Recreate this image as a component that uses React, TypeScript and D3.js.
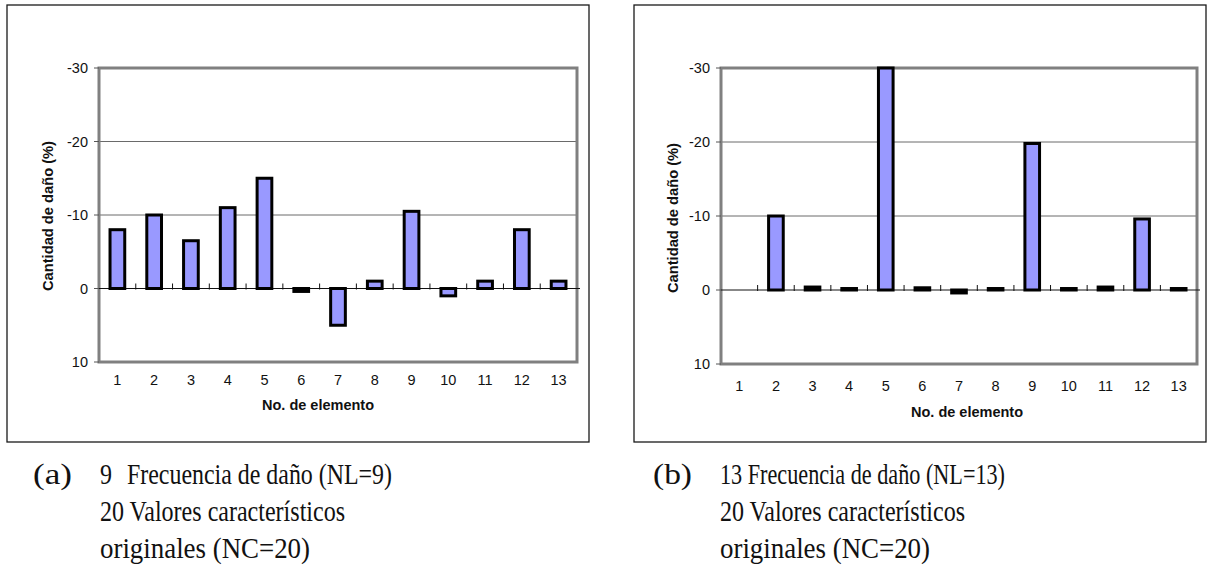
import React from "react";
import * as d3 from "d3";

const categories = ["1", "2", "3", "4", "5", "6", "7", "8", "9", "10", "11", "12", "13"];
const valuesA = [-8, -10, -6.5, -11, -15, 0.4, 5, -1, -10.5, 1, -1, -8, -1];
const valuesB = [0, -10, -0.4, -0.2, -30, -0.3, 0.4, -0.2, -19.8, -0.2, -0.4, -9.6, -0.2];
const yTicks = [-30, -20, -10, 0, 10];
const yTitle = "Cantidad de daño (%)";
const xTitle = "No. de elemento";
const captionA = ["(a)", "9", "Frecuencia de daño (NL=9)", "20 Valores característicos", "originales (NC=20)"];
const captionB = ["(b)", "13 Frecuencia de daño (NL=13)", "20 Valores característicos", "originales (NC=20)"];

type Cfg = {
  values: number[];
  box: { x: number; y: number; w: number; h: number };
  plot: { left: number; right: number; top: number; bottom: number };
  xLabelY: number;
  titleX: number;
  titleY: number;
  yTitleX: number;
  yTitleY: number;
};

const cfgA: Cfg = {
  values: valuesA,
  box: { x: 7, y: 5, w: 582, h: 437 },
  plot: { left: 99, right: 577, top: 68, bottom: 362 },
  xLabelY: 380,
  titleX: 318,
  titleY: 405,
  yTitleX: 47.5,
  yTitleY: 216,
};
const cfgB: Cfg = {
  values: valuesB,
  box: { x: 634, y: 5, w: 572, h: 437 },
  plot: { left: 721, right: 1197, top: 68, bottom: 364 },
  xLabelY: 386,
  titleX: 967,
  titleY: 412,
  yTitleX: 672.5,
  yTitleY: 218,
};

const SANS = "'Liberation Sans', Arial, sans-serif";
const SERIF = "'Liberation Serif', 'Times New Roman', serif";

function Chart({ cfg }: { cfg: Cfg }) {
  const { plot, box } = cfg;
  const x = d3.scaleBand<string>().domain(categories).range([plot.left, plot.right]).paddingInner(0).paddingOuter(0);
  const y = d3.scaleLinear().domain([10, -30]).range([plot.bottom, plot.top]);
  const bw = x.bandwidth();
  const barW = bw * 0.4;
  const y0 = y(0);
  return (
    <g>
      <rect x={box.x} y={box.y} width={box.w} height={box.h} fill="#fff" stroke="#1a1a1a" strokeWidth={1.3} />
      {yTicks.filter((t) => t !== 0 && t !== 10 && t !== -30).map((t) => (
        <line key={"g" + t} x1={plot.left} x2={plot.right} y1={y(t)} y2={y(t)} stroke="#6a6a6a" strokeWidth={1} />
      ))}
      <rect x={plot.left} y={plot.top} width={plot.right - plot.left} height={plot.bottom - plot.top} fill="none" stroke="#808080" strokeWidth={3} />
      {yTicks.map((t) => (
        <g key={"t" + t}>
          <line x1={plot.left - 5} x2={plot.left} y1={y(t)} y2={y(t)} stroke="#555" strokeWidth={1} />
          <text x={plot.left - 11} y={y(t)} dy="0.35em" textAnchor="end" fontFamily={SANS} fontSize={14.5} fill="#111">
            {t}
          </text>
        </g>
      ))}
      <line x1={plot.left} x2={plot.right + 3} y1={y0} y2={y0} stroke="#111" strokeWidth={1} />
      {categories.slice(1).map((c) => (
        <line key={"ct" + c} x1={x(c)!} x2={x(c)!} y1={y0 - 5} y2={y0 + 1} stroke="#111" strokeWidth={1} />
      ))}
      {cfg.values.map((v, i) => {
        if (v === 0) return null;
        const cx = x(categories[i])! + bw / 2;
        const top = Math.min(y(v), y0);
        const h = Math.abs(y(v) - y0);
        return (
          <rect key={"b" + i} x={cx - barW / 2} y={top} width={barW} height={h} fill="#9999FF" stroke="#000" strokeWidth={3} />
        );
      })}
      {categories.map((c) => (
        <text key={"xl" + c} x={x(c)! + bw / 2} y={cfg.xLabelY} dy="0.35em" textAnchor="middle" fontFamily={SANS} fontSize={14.5} fill="#111">
          {c}
        </text>
      ))}
      <text x={cfg.titleX} y={cfg.titleY} dy="0.35em" textAnchor="middle" fontFamily={SANS} fontWeight="bold" fontSize={14.5} fill="#111" textLength={112} lengthAdjust="spacingAndGlyphs">
        {xTitle}
      </text>
      <text
        transform={`translate(${cfg.yTitleX},${cfg.yTitleY}) rotate(-90)`}
        dy="0.35em"
        textAnchor="middle"
        fontFamily={SANS}
        fontWeight="bold"
        fontSize={14.5}
        fill="#111"
        textLength={150}
        lengthAdjust="spacingAndGlyphs"
      >
        {yTitle}
      </text>
    </g>
  );
}

function Caption() {
  const fs = 30;
  const common = { fontFamily: SERIF, fontSize: fs, fill: "#111", lengthAdjust: "spacingAndGlyphs" as const };
  const b1 = 484, b2 = 521, b3 = 558;
  return (
    <g>
      <text x={33} y={b1} textLength={39} {...common}>{captionA[0]}</text>
      <text x={100} y={b1} textLength={12} {...common}>{captionA[1]}</text>
      <text x={127} y={b1} textLength={265} {...common}>{captionA[2]}</text>
      <text x={100} y={b2} textLength={245} {...common}>{captionA[3]}</text>
      <text x={100} y={b3} textLength={210} {...common}>{captionA[4]}</text>
      <text x={653} y={b1} textLength={39} {...common}>{captionB[0]}</text>
      <text x={720} y={b1} textLength={285} {...common}>{captionB[1]}</text>
      <text x={720} y={b2} textLength={245} {...common}>{captionB[2]}</text>
      <text x={720} y={b3} textLength={210} {...common}>{captionB[3]}</text>
    </g>
  );
}

export default function App() {
  return (
    <svg width={1207} height={577} style={{ position: "absolute", left: 0, top: 0, background: "#fff" }}>
      <rect x={0} y={0} width={1207} height={577} fill="#fff" />
      <Chart cfg={cfgA} />
      <Chart cfg={cfgB} />
      <Caption />
    </svg>
  );
}
